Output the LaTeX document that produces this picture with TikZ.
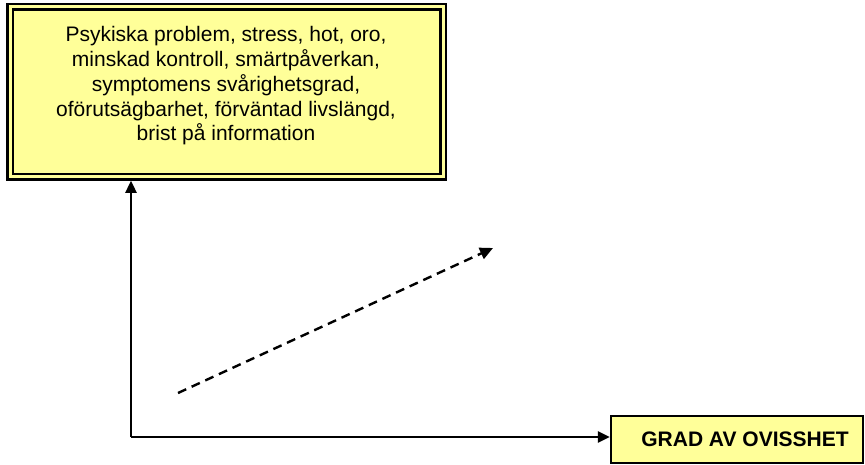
\documentclass[tikz,border=0pt]{standalone}
\usepackage{fontspec}
\setmainfont{Liberation Sans}
\usetikzlibrary{arrows.meta}
\definecolor{boxyellow}{HTML}{FFFF99}
\begin{document}
\begin{tikzpicture}[x=1pt,y=-1pt,
  link/.style={line width=2.4pt,-{Triangle[length=12pt,width=11pt]}},
  dashlink/.style={line width=2.4pt,dash pattern=on 9pt off 6pt,-{Triangle[length=13pt,width=12pt]}},
  factorbox/.style={draw=black,line width=2.5pt,double=boxyellow,double distance=3pt,
    fill=boxyellow,minimum width=433pt,minimum height=170pt,inner sep=0pt},
  outcomebox/.style={draw=black,line width=2.2pt,fill=boxyellow,minimum width=252pt,
    minimum height=47pt,inner sep=0pt,font=\fontsize{21}{24}\selectfont\bfseries}
]
\useasboundingbox (0,0) rectangle (865,464);

% factor box with its list of factors
\node[factorbox] (factors) at (226.5,91.5) {};
\node[align=center,font=\fontsize{21}{24.75}\selectfont,inner sep=0pt]
  (factortext) at (226,86)
  {Psykiska problem, stress, hot, oro,\\
   minskad kontroll, smärtpåverkan,\\
   symptomens svårighetsgrad,\\
   oförutsägbarhet, förväntad livslängd,\\
   brist på information};

% outcome box
\node[outcomebox] (outcome) at (737,439.5) {\hspace*{16pt}GRAD AV OVISSHET};

% axes meeting in the lower left corner
\coordinate (corner) at (131,437);
\draw[link,shorten >=3pt] (corner) -- (corner |- factors.south);
\draw[link] (corner) -- (corner -| outcome.west);

% dashed diagonal arrow
\coordinate (dashstart) at (178,393);
\coordinate (dashend) at (493,248);
\draw[dashlink] (dashstart) -- (dashend);
\end{tikzpicture}
\end{document}
